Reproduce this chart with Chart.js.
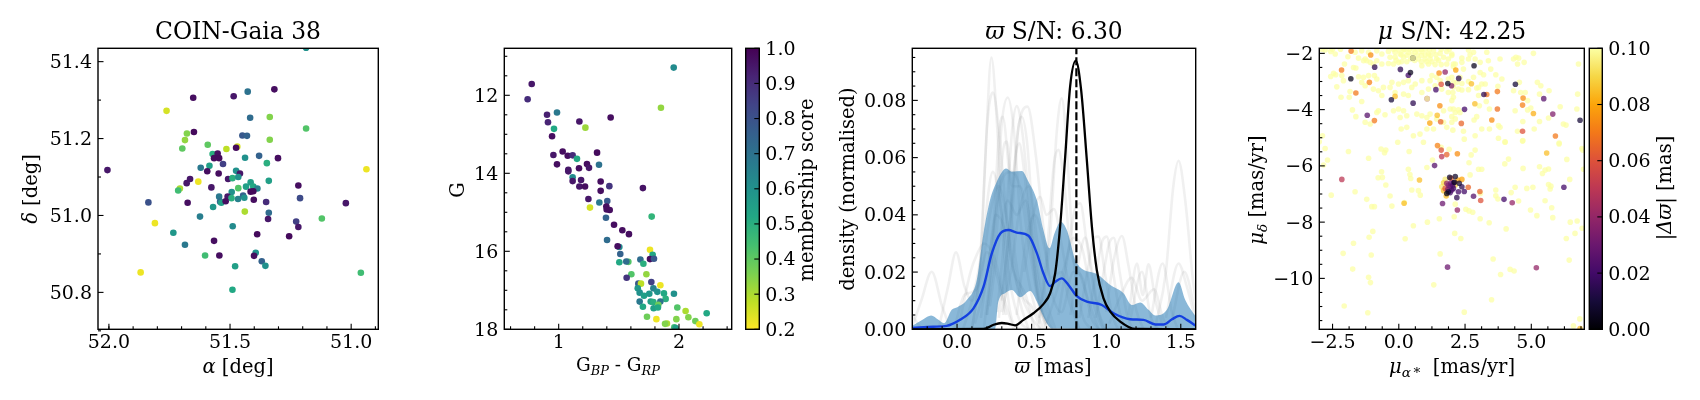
<!DOCTYPE html>
<html>
<head>
<meta charset="utf-8">
<style>
  body { margin: 0; background: #fff; }
  #page { position: relative; width: 1700px; height: 400px; overflow: hidden; }
  canvas { position: absolute; left: 0; top: 0; }
</style>
<script src="https://cdn.jsdelivr.net/npm/chart.js@4/dist/chart.umd.min.js"></script>
</head>
<body>
<div id="page"></div>
<script>
// panel 1: sky positions
var raValues = [52.006,51.837,51.869,51.81,51.734,51.686,51.762,51.652,51.485,51.427,51.317,51.417,51.336,51.186,51.649,51.678,51.686,51.697,51.592,51.449,51.43,51.336,51.515,51.47,51.475,51.572,51.551,51.566,51.545,51.438,51.38,51.302,51.348,51.529,51.621,51.585,51.594,51.547,51.475,51.459,51.665,51.679,51.707,51.714,51.631,51.508,51.49,51.466,51.577,51.34,51.415,51.434,51.466,51.404,51.387,51.415,51.404,51.218,51.493,51.51,51.446,51.441,51.467,51.494,51.545,51.541,51.536,51.518,51.675,51.57,51.402,51.351,51.211,51.022,51.34,51.343,51.439,51.624,51.121,51.227,51.218,51.489,51.388,51.256,51.566,51.394,51.401,51.603,51.544,51.369,51.354,51.479,51.49,50.96,50.937,51.186];
var decValues = [51.118,51.034,50.852,50.98,50.955,50.924,51.272,51.306,51.31,51.322,51.328,51.254,51.256,51.226,51.217,51.213,51.196,51.174,51.184,51.208,51.207,51.197,51.173,51.179,51.176,51.16,51.161,51.149,51.149,51.15,51.155,51.149,51.136,51.134,51.124,51.129,51.115,51.109,51.116,51.109,51.095,51.084,51.07,51.065,51.088,51.095,51.097,51.1,51.073,51.09,51.086,51.075,51.071,51.075,51.07,51.062,51.063,51.078,51.061,51.049,51.052,51.046,51.043,51.045,51.049,51.036,51.033,51.037,51.033,51.022,51.041,51.035,51.045,51.032,51.007,50.991,51.01,50.997,50.992,50.984,50.97,50.972,50.951,50.946,50.934,50.903,50.895,50.896,50.896,50.881,50.869,50.868,50.807,50.851,51.12,51.436];
var skyScore = [.95,.8,.22,.22,.58,.68,.25,.97,.95,.7,.97,.72,.35,.42,.98,.35,.33,.4,.4,.78,.75,.35,.28,.25,.98,.5,.97,.98,.98,.6,.75,.97,.5,.85,.68,.55,.97,.97,.6,.95,.95,.95,.3,.45,.22,.95,.5,.6,.95,.55,.55,.55,.42,.52,.65,.98,.98,.97,.6,.95,.75,.6,.65,.5,.68,.72,.55,.97,.97,.58,.97,.9,.82,.95,.72,.95,.3,.66,.42,.85,.95,.62,.98,.98,.97,.6,.97,.45,.97,.75,.6,.55,.52,.45,.22,.6];

// panel 2: colour-magnitude diagram
var bpRpValues = [1.956,.776,.742,.903,.986,.911,.961,1.172,1.432,1.222,1.85,.945,.956,1.033,1.075,1.116,1.152,1.319,.986,1.235,1.335,1.252,1.169,1.08,1.08,1.116,1.116,1.186,1.349,1.172,1.219,1.421,1.349,1.70,1.247,1.404,1.338,1.26,1.396,1.399,1.424,1.773,1.393,1.46,1.529,1.584,1.402,1.504,1.49,1.759,1.512,1.781,1.759,1.792,1.679,1.579,1.562,1.504,1.704,1.729,1.604,1.565,1.662,1.684,1.77,1.845,1.657,1.787,1.82,1.673,1.875,1.958,1.753,1.709,1.889,1.673,1.765,1.787,1.845,1.828,1.70,1.789,1.825,1.986,2.055,2.23,1.734,1.812,2.078,1.978,2.136,2.169,1.9,1.884,1.961,1.972];
var gMagValues = [11.29,11.71,12.10,12.5,12.44,12.69,12.86,12.67,12.57,12.83,12.32,13.05,13.53,13.44,13.55,13.54,13.63,13.47,13.77,13.76,13.78,13.86,13.87,13.91,13.95,14.1,14.2,14.17,14.21,14.34,14.34,14.33,14.45,14.38,14.66,14.71,14.75,14.88,14.85,14.93,14.94,15.11,15.14,15.32,15.46,15.56,15.71,15.89,15.87,15.96,16.07,16.09,16.2,16.19,16.21,16.27,16.26,16.28,16.32,16.59,16.59,16.68,16.83,16.83,16.79,16.87,16.95,16.95,17.04,17.06,17.08,17.09,17.09,17.14,17.22,17.29,17.29,17.3,17.29,17.37,17.42,17.46,17.44,17.44,17.53,17.59,17.68,17.74,17.69,17.74,17.79,17.87,17.85,17.86,17.95,17.97];
var cmdScore = [.62,.95,.9,.93,.68,.92,.52,.95,.97,.32,.33,.97,.95,.97,.97,.9,.52,.98,.97,.97,.7,.95,.97,.95,.95,.62,.95,.95,.97,.95,.97,.88,.97,.96,.95,.78,.68,.25,.97,.97,.97,.48,.75,.97,.97,.97,.72,.62,.97,.22,.75,.52,.97,.78,.72,.42,.72,.52,.5,.33,.42,.88,.78,.28,.85,.22,.58,.65,.6,.6,.52,.6,.58,.55,.5,.68,.55,.5,.7,.38,.52,.55,.52,.42,.3,.52,.38,.22,.35,.35,.38,.22,.3,.35,.45,.55];

// panel 3: parallax densities, each list is x,y,x,y...
var greyCurves = [
  [.10,0,.15,.02,.19,.06,.23,.095,.27,.07,.31,.03,.36,.005,.42,0],
  [.10,0,.16,.025,.20,.07,.24,.0827,.28,.07,.33,.04,.38,.02,.43,.012,.5,.004,.56,0],
  [.20,.005,.26,.04,.30,.072,.34,.081,.38,.07,.43,.035,.5,.012,.58,0],
  [.27,.006,.33,.04,.37,.07,.40,.078,.44,.068,.49,.04,.54,.012,.6,.002],
  [.3,.01,.36,.04,.41,.07,.472,.0778,.53,.06,.58,.035,.63,.018,.7,.02,.75,.01,.82,0],
  [.18,0,.24,.03,.28,.068,.306,.0743,.34,.06,.38,.03,.44,.012,.5,.008,.56,0],
  [.31,.005,.37,.04,.41,.07,.434,.0743,.47,.065,.52,.03,.58,.01,.64,0],
  [.55,.002,.62,.03,.67,.07,.702,.0807,.74,.06,.78,.025,.84,.005,.9,0],
  [.55,.004,.6,.025,.65,.058,.68,.0627,.72,.05,.76,.028,.82,.02,.88,.01,.95,0],
  [.2,.005,.26,.03,.31,.063,.333,.0656,.37,.05,.42,.05,.47,.04,.53,.015,.6,0],
  [.28,.004,.34,.03,.39,.06,.417,.065,.45,.055,.5,.03,.56,.008,.62,0],
  [1.33,.001,1.4,.02,1.45,.05,1.485,.0589,1.53,.045,1.58,.018,1.6,.01],
  [-.3,.001,-.24,.01,-.17,.0201,-.1,.008,-.05,.001],
  [-.12,.001,-.06,.015,-.007,.0269,.05,.015,.1,.01,.16,.02,.2,.027,.26,.02,.33,.005],
  [-.3,.005,-.25,.001,-.2,0],
  [.45,.02,.52,.042,.557,.0463,.6,.04,.65,.042,.7,.03,.76,.012,.82,0],
  [.68,.005,.74,.025,.79,.042,.826,.044,.87,.03,.93,.01,.98,0],
  [.82,.004,.88,.022,.92,.032,.949,.0324,.99,.02,1.04,.005,1.08,0],
  [.88,.004,.94,.022,.975,.031,1.004,.0324,1.04,.022,1.09,.006,1.13,0],
  [.93,.004,.99,.022,1.02,.03,1.05,.032,1.09,.02,1.14,.005,1.18,0],
  [1.0,.006,1.05,.024,1.105,.0326,1.15,.022,1.2,.007,1.25,0],
  [.76,.005,.82,.025,.859,.0321,.9,.022,.95,.006,1.0,0],
  [1.15,.005,1.206,.023,1.245,.012,1.284,.0227,1.33,.01,1.38,.001],
  [1.3,.004,1.378,.023,1.44,.006,1.48,0],
  [1.4,.004,1.485,.023,1.54,.015,1.6,.003],
  [1.44,.003,1.523,.0201,1.6,.006],
  [1.16,.003,1.239,.0201,1.3,.004,1.35,0],
  [.02,.003,.09,.02,.132,.026,.18,.03,.25,.025,.32,.01,.38,0],
  [-.02,0,.05,.012,.1,.013,.16,.018,.22,.04,.28,.05,.36,.03,.42,.01,.48,0],
  [.16,.004,.23,.03,.3,.052,.36,.055,.42,.05,.48,.03,.55,.008,.6,0],
  [.22,.008,.28,.03,.34,.045,.4,.04,.46,.045,.52,.025,.58,.006,.64,0],
  [.3,.006,.36,.02,.42,.042,.48,.05,.54,.03,.6,.01,.66,0],
  [.12,.002,.2,.018,.26,.04,.32,.035,.38,.02,.46,.012,.52,0],
  [.4,.005,.46,.03,.52,.04,.58,.03,.64,.012,.7,.006,.78,.02,.84,.018,.9,.004,.95,0],
  [.04,0,.1,.01,.16,.025,.24,.055,.3,.04,.36,.015,.42,.003,.48,0],
  [.6,.002,.66,.012,.72,.022,.78,.032,.84,.028,.9,.012,.96,.002,1.0,0],
  [1.02,.002,1.1,.012,1.17,.018,1.24,.01,1.32,.014,1.38,.004,1.42,0]
];
var bandX = [-.30,-.226,-.174,-.125,-.087,-.036,.002,.065,.132,.177,.221,.266,.30,.329,.367,.434,.479,.535,.579,.62,.653,.696,.736,.803,.937,1.027,1.116,1.172,1.228,1.284,1.329,1.407,1.485,1.53,1.60];
var bandUpper = [.0012,.0035,.0048,.0033,.0021,.0068,.0077,.0102,.0172,.0335,.0452,.0516,.0549,.0562,.0551,.0553,.0516,.0452,.0347,.0283,.0335,.0376,.0347,.0231,.0193,.0155,.0126,.0085,.0094,.0068,.0048,.0068,.0164,.0102,.0044];
var lowerX = [-.3,.255,.277,.322,.367,.423,.49,.535,.579,.635,1.6];
var bandLower = [0,0,.0097,.0126,.0137,.0112,.0134,.0097,.0044,.0003,0];
var medianX = [-.3,-.159,-.069,.02,.11,.177,.233,.29,.345,.40,.479,.535,.579,.624,.658,.702,.747,.803,.87,.971,1.049,1.161,1.25,1.329,1.385,1.441,1.492,1.541,1.6];
var medianY = [.0005,.0009,.0012,.0033,.0073,.0148,.0265,.0335,.0347,.0338,.0327,.0266,.0196,.0151,.0166,.0178,.0155,.0116,.0097,.0085,.0056,.0035,.0033,.0017,.0017,.0035,.0047,.0033,.0013];
var memberX = [-.3,.178,.245,.30,.345,.389,.445,.512,.579,.624,.658,.691,.725,.758,.796,.832,.87,.904,.937,.982,1.027,1.094,1.195,1.6];
var memberY = [0,.0001,.0016,.0022,.0019,.0014,.0033,.0056,.0088,.0126,.0196,.0359,.0603,.0848,.0939,.0836,.0592,.0359,.0207,.0108,.0062,.0027,.0001,0];
var clusterPlx = 0.8;

// panel 4: proper motions. Field stars saturate the colour scale
var fieldPmra = [-.2,0,.2,.4,.55,.7,.85,1,1.15,.1,.3,.5,.7,.85,1,1.2,1.4,.45,.6,.85,1.05,1.25,1.5,-.1,.1,.3,-2.9,-2.5,-2.2,1.6,1.9,-2.78,-2.57,-2.4,-1.92,-1.52,-1.27,-.83,-.64,-.39,-.14,.05,.18,.36,.62,.87,1.12,1.31,1.56,1.81,2,-1.65,-1.4,-1.14,-.33,-.14,.18,.74,.99,1.18,1.43,1.69,1.87,-2.05,-1.71,-1.62,-1.33,-1.21,-1.08,-.96,-.83,-.64,-.39,-.2,-.01,.87,1.12,1.37,1.6,1.81,2.06,-2.15,-2.57,-2.46,-2.38,-1.52,-1.33,-1.14,-.92,-.83,-2.09,-2.34,-1.4,-1.27,-.96,-.77,-.58,-.26,-.01,.18,.36,.49,.62,.87,1.25,1.43,1.18,1.37,1.56,1.87,2.06,-2.18,-1.84,-1.87,-1.4,-.64,-.33,-.14,.18,.36,.87,1.12,1.62,1.87,2.06,-1.75,-1.62,-.83,-.77,-.52,-1.08,-1.27,-.2,-.01,.18,.05,.3,.68,.87,1.18,1.43,1.06,1.69,1.94,2.13,.09,.3,.55,.8,1.06,1.31,1.69,1.81,-2.88,-.04,.93,
  2.63,2.82,3.32,2,2.38,2.63,2.88,2.69,3.07,3.38,3.82,4.33,4.42,4.52,5.08,4.73,4.48,6.78,2.13,2.06,2.38,2.44,3.47,3.07,3.2,3.66,3.89,2.82,2,2.31,2.19,2.38,2.63,2.06,3.26,3.13,3.01,3.74,4.55,5.23,5.36,5.67,2.25,2.38,2.63,2.94,4.33,4.6,4.77,5.31,6.75,2.04,3.01,2,3.3,4.86,6.09,2.06,2.25,3.04,3.42,4.39,4.86,4.98,6.72,2,2.13,2,2.31,2.94,2.84,5.31,5.65,6.21,6.31,3.76,3.82,3.13,3.42,5.11,4.48,2.04,2.44,2.88,2.47,3.76,4.01,4.68,6.05,4.68,
  -3,-2.78,-1.9,-1.14,-.67,-.49,-.54,.39,-2.69,-2.84,1.27,1.6,1.9,2.73,2.88,4.14,4,4.01,4.67,6.05,6.91,6.94,6.34,2.65,1.06,.36,-.65,-.78,-.62,.42,.45,-.49,-1.65,-2.55,-.33,-1.21,-1.02,-.92,-.26,.21,.49,.74,.81,2.69,3.01,3.13,4.69,5.31,5.52,5.65,5.42,6.45,6.97,5.65,5.74,5.71,4.83,5.06,4.39,4.24,3.66,3.66,3.74,5.52,4.52,4.97,5.21,5.77,5.81,6.47,6.73,6.92,6.65,6.32,4.05,3.41,3.07,2.53,2.65,2.79,2.09,1.53,1.08,.55,2.13,2.11,2.34,.24,-.98,-1.12,-1.71,-2.1,-1.04,1.56,3.56,6.43,-1.74,-1.14,-1.07,1.32,4.2,4.35,3.84,-2.06,-1.17,3.5,2.47,6.83,6.59,3.08];
var fieldPmdec = [-1.85,-1.87,-1.85,-1.86,-1.85,-1.87,-1.86,-1.85,-1.87,-2.05,-2.07,-2.05,-2.06,-2.08,-2.05,-2.07,-2.05,-2.2,-2.25,-2.3,-2.3,-2.3,-2.25,-2.25,-2.3,-2.3,-1.85,-1.85,-1.85,-1.85,-1.85,-1.88,-1.93,-2.02,-2.12,-2.17,-2.2,-1.91,-2.02,-1.93,-1.96,-2.02,-1.88,-1.96,-1.96,-1.93,-2.02,-1.91,-2,-1.93,-2.02,-1.96,-1.91,-1.96,-2.14,-2.14,-2.14,-2.2,-2.2,-2.2,-2.2,-2.14,-2.2,-2.38,-2.5,-2.52,-2.26,-2.26,-2.32,-2.38,-2.26,-2.38,-2.36,-2.38,-2.32,-2.44,-2.38,-2.4,-2.4,-2.38,-2.38,-2.79,-2.82,-2.71,-2.76,-2.83,-2.85,-2.79,-2.79,-2.91,-2.97,-3.19,-3.03,-3.15,-3.27,-3.33,-3.21,-3.03,-3.09,-3.03,-2.97,-3.21,-3.09,-2.97,-2.79,-2.85,-2.97,-3.15,-2.97,-2.91,-3.03,-3.56,-3.36,-3.56,-3.71,-3.5,-3.21,-3.39,-3.45,-3.5,-3.39,-3.27,-3.27,-3.39,-3.56,-4.01,-4.25,-4.1,-4.04,-4.18,-4.51,-4.45,-4.04,-3.98,-4.04,-4.28,-4.22,-4.16,-4.22,-4.16,-4.33,-4.28,-4.04,-3.98,-4.1,-4.69,-4.63,-4.93,-4.87,-4.69,-4.69,-4.45,-4.63,-4.93,-5.16,-5.16,
  -1.88,-1.96,-1.96,-2.08,-2.17,-2.2,-2.2,-2.05,-2.32,-2.26,-2.2,-2.2,-2.14,-2.17,-2,-2.32,-2.38,-2.38,-2.38,-2.47,-2.32,-2.56,-2.56,-2.68,-2.76,-2.76,-2.91,-2.85,-2.85,-2.85,-3.03,-3.07,-3,-3.19,-3.09,-3.09,-3.21,-3.17,-3.03,-3.03,-3.15,-3.33,-3.27,-3.3,-3.29,-3.23,-3.33,-3.39,-3.39,-3.45,-3.45,-3.39,-3.5,-3.68,-3.71,-3.68,-3.9,-3.98,-4.01,-3.86,-3.98,-4.04,-4.01,-3.94,-3.98,-4.25,-4.33,-4.45,-4.1,-4.25,-4.37,-4.42,-4.3,-4.51,-4.55,-4.57,-4.63,-4.69,-4.69,-4.69,-4.77,-4.73,-4.77,-4.93,-5.05,-5.02,-5.16,-5.1,-5.19,-4.42,
  -5.14,-5.38,-5.49,-5.73,-5.4,-5.44,-5.53,-5.49,-5.79,-5.97,-5.79,-5.34,-5.41,-5.61,-5.44,-5.76,-5.93,-5.14,-5.12,-5.22,-5.38,-5.44,-5.77,-5.89,-6.06,-6.12,-6.21,-6.42,-6.41,-6.31,-6.45,-6.68,-6.92,-7.04,-7.07,-7.19,-7.45,-7.45,-7.43,-7.3,-6.86,-6.88,-7.04,-6.32,-6.12,-6.12,-6.09,-6.03,-6.15,-6.11,-6.27,-6.48,-6.12,-6.66,-6.72,-6.82,-6.8,-6.76,-6.76,-6.95,-6.86,-7.06,-7.18,-7.24,-7.25,-7.57,-7.77,-7.49,-7.84,-8,-7.96,-8.22,-8.4,-8.58,-8.24,-8.02,-7.88,-7.54,-7.6,-7.65,-7.81,-7.88,-8,-8.13,-7.36,-8.4,-8.58,-8.59,-8.33,-8.54,-8.75,-9.11,-9.17,-9.13,-9.31,-9.35,-9.67,-9.96,-10.15,-10.23,-9.68,-9.74,-9.86,-10.98,-11.22,-10.76,-11.2,-11.44,-11.69,-6.98];
var memberPmra = [-1.8,-1.06,-2.16,-1.81,-.91,-1.11,-1.62,.06,.44,.36,.53,1.52,1.75,2.15,2.84,1.85,1.6,1.99,2.26,2.74,1.4,4.4,3.72,3.21,3.32,4.69,5.47,6.84,5.81,-.14,-.28,.54,1.07,1.55,2.87,2.48,3.72,4.67,5.08,-1.19,-.92,1.45,1.17,1.58,2.36,3.51,4.67,5.91,1.46,1.6,1.62,1.81,2.21,5.58,1.35,-2.15,.78,.2,2.62,3.06,3.09,2.82,3.97,4.28,6.23,1.65,2.21,1.84,5.19,6.84,2.19,2.47,2.25,1.92,2.13,1.97,2.1,2.28,2.38,1.81,1.75,1.94,2.06,1.87,1.81,2,1.69,1.79,2.38,1.97,1.87,2.06,2.03,1.85,1.94,2.13,2.23,1.69,1.75,1.62];
var memberPmdec = [-1.92,-2.06,-2.59,-2.9,-2.49,-3.03,-3.41,-2.57,-2.68,-2.78,-2.17,-2.7,-2.66,-2.59,-2.44,-3.07,-3.1,-3.15,-2.89,-3.08,-3.29,-3.1,-3.36,-3.46,-3.46,-3.59,-3.61,-4.38,-4.16,-3.53,-3.65,-3.77,-3.61,-3.86,-3.79,-3.99,-3.98,-3.84,-4.14,-4.2,-4.39,-4.2,-4.48,-4.43,-4.49,-4.37,-4.77,-4.94,-5.28,-5.44,-5.67,-5.6,-5.57,-5.54,-5.99,-6.48,-6.5,-7.33,-6.76,-6.91,-7.23,-7.08,-7.19,-7.31,-6.76,-7.34,-7.57,-9.6,-9.62,-11.78,-7.13,-6.91,-6.92,-6.41,-6.38,-6.44,-6.58,-6.62,-6.74,-6.62,-6.8,-6.74,-6.8,-6.92,-6.98,-6.86,-6.88,-7.07,-6.48,-6.62,-6.68,-6.6,-6.7,-6.83,-6.95,-6.68,-6.5,-6.6,-6.48,-6.74];
var memberDeltaPlx = [.07,.075,.07,.005,.015,.072,.07,.015,.005,.02,.008,.075,.04,.08,.005,.005,.06,.035,.015,.085,.02,.01,.07,.015,.07,.075,.025,.01,.035,.085,.01,.015,.04,.075,.085,.02,.068,.072,.082,.025,.07,.085,.08,.065,.065,.075,.06,.07,.072,.06,.05,.065,.075,.085,.025,.05,.085,.085,.065,.065,.06,.025,.02,.04,.02,.03,.04,.03,.04,.085,.015,.02,.02,.008,.008,.065,.005,.01,.015,.04,.06,.03,.02,.01,.005,.025,.085,.085,.08,.03,.035,.02,.025,.035,.02,.09,.08,.09,.095,.095];
// two field stars sit on top of members
var overPmra = [.53, 1.07];
var overPmdec = [-2.17, -3.61];

// axis ticks
var skyXTicks = [52, 51.5, 51], skyXMinor = [52,51.9,51.8,51.7,51.6,51.4,51.3,51.2,51.1,50.9];
var skyYTicks = [50.8, 51, 51.2, 51.4], skyYMinor = [50.7,50.9,51.1,51.3];
var cmdXTicks = [1, 2], cmdXMinor = [.6,.8,1.2,1.4,1.6,1.8,2.2,2.4];
var cmdYTicks = [12, 14, 16, 18], cmdYMinor = [11,11.5,12.5,13,13.5,14.5,15,15.5,16.5,17,17.5];
var plxXTicks = [0, .5, 1, 1.5], plxXMinor = [-.2,-.1,.1,.2,.3,.4,.6,.7,.8,.9,1.1,1.2,1.3,1.4];
var plxYTicks = [0, .02, .04, .06, .08], plxYMinor = [.005,.01,.015,.025,.03,.035,.045,.05,.055,.065,.07,.075,.085,.09,.095];
var pmXTicks = [-2.5, 0, 2.5, 5], pmXMinor = [-1.875,-1.25,-.625,.625,1.25,1.875,3.125,3.75,4.375,5.625,6.25,6.875];
var pmYTicks = [-10, -8, -6, -4, -2], pmYMinor = [-11.5,-11,-10.5,-9.5,-9,-8.5,-7.5,-7,-6.5,-5.5,-5,-4.5,-3.5,-3,-2.5];
var scoreTicks = [.2,.3,.4,.5,.6,.7,.8,.9,1];
var deltaTicks = [0,.02,.04,.06,.08,.1];

var viridisStops = ['#440154','#482475','#414487','#355f8d','#2a788e','#21918c','#22a884','#44bf70','#7ad151','#bddf26','#fde725'];
var infernoStops = ['#000004','#160b39','#420a68','#6a176e','#932667','#bc3754','#dd513a','#f37819','#fca50a','#f6d746','#fcffa4'];
var SERIF = '"DejaVu Serif"';
var TICK_SIZE = 19;
var LABEL_SIZE = 19.5;
var TITLE_SIZE = 23.4;
var AXIS_SPACE = 60;
var SCORE_RADIUS = 3.3;
var PM_RADIUS = 2.8;

function hexToRgb(hex) {
    return [parseInt(hex.substr(1, 2), 16), parseInt(hex.substr(3, 2), 16), parseInt(hex.substr(5, 2), 16)];
}

function colormap(stops, t, alpha) {
    t = Math.min(1, Math.max(0, t)) * (stops.length - 1);
    let i = Math.min(stops.length - 2, Math.floor(t));
    let a = hexToRgb(stops[i]), b = hexToRgb(stops[i + 1]);
    let f = t - i;
    let c = a.map((v, k) => Math.round(v + (b[k] - v) * f));
    return `rgba(${c[0]},${c[1]},${c[2]},${alpha})`;
}

function scoreColor(s) {
    return colormap(viridisStops, 1 - (s - 0.2) / 0.8, 1);
}

function deltaColor(v) {
    return colormap(infernoStops, v / 0.1, 0.74);
}

function toPoints(xs, ys) {
    return xs.map((x, i) => ({ x: x, y: ys[i] }));
}

function pairsToPoints(list) {
    let pts = [];
    for (let i = 0; i < list.length; i += 2) {
        pts.push({ x: list[i], y: list[i + 1] });
    }
    return pts;
}

function drawRuns(ctx, runs, size) {
    // runs are pieces of one label: plain, italic or subscript
    let total = 0;
    runs.forEach(r => {
        let s = r.sub ? size * 0.7 : size;
        ctx.font = `${r.i ? 'italic ' : ''}${s}px ${SERIF}`;
        r.w = ctx.measureText(r.t).width;
        total += r.w;
    });
    let x = -total / 2;
    runs.forEach(r => {
        let s = r.sub ? size * 0.7 : size;
        ctx.font = `${r.i ? 'italic ' : ''}${s}px ${SERIF}`;
        ctx.fillText(r.t, x, r.sub ? size * 0.22 : 0);
        x += r.w;
    });
}

var panelDecor = {
    id: 'panelDecor',
    afterDraw(chart, args, opts) {
        let ctx = chart.ctx, a = chart.chartArea;
        ctx.save();
        ctx.strokeStyle = '#000';
        ctx.fillStyle = '#000';
        ctx.textAlign = 'left';
        ctx.textBaseline = 'alphabetic';
        ctx.lineWidth = 1.1;
        let tick = (x1, y1, x2, y2) => {
            ctx.beginPath();
            ctx.moveTo(x1, y1);
            ctx.lineTo(x2, y2);
            ctx.stroke();
        };
        if (opts.bottomMajor) {
            let s = chart.scales.x;
            opts.bottomMajor.forEach(v => tick(s.getPixelForValue(v), a.bottom, s.getPixelForValue(v), a.bottom - 5.5));
            opts.bottomMinor.forEach(v => tick(s.getPixelForValue(v), a.bottom, s.getPixelForValue(v), a.bottom - 3));
        }
        let y = chart.scales.y;
        if (opts.rightMajor) {
            opts.rightMajor.forEach(v => tick(a.right, y.getPixelForValue(v), a.right - 5, y.getPixelForValue(v)));
        } else {
            opts.leftMajor.forEach(v => tick(a.left, y.getPixelForValue(v), a.left + 5.5, y.getPixelForValue(v)));
            opts.leftMinor.forEach(v => tick(a.left, y.getPixelForValue(v), a.left + 3, y.getPixelForValue(v)));
        }
        ctx.lineWidth = 1.4;
        ctx.strokeRect(a.left, a.top, a.right - a.left, a.bottom - a.top);
        (opts.labels || []).forEach(l => {
            ctx.save();
            ctx.translate(l.x, l.y);
            if (l.vertical) ctx.rotate(-Math.PI / 2);
            drawRuns(ctx, l.runs, l.size || LABEL_SIZE);
            ctx.restore();
        });
        ctx.restore();
    }
};
Chart.register(panelDecor);

function numberLabel(digits) {
    return v => v.toFixed(digits).replace('-', '\u2212');
}

function makeAxis(range, ticks, digits, position, padding, reverse) {
    let horizontal = position === 'bottom';
    return {
        type: 'linear',
        position: position,
        min: range[0],
        max: range[1],
        reverse: !!reverse,
        grid: { display: false, drawTicks: false },
        border: { display: false },
        afterBuildTicks: s => { s.ticks = ticks.map(v => ({ value: v })); },
        afterFit: s => {
            if (horizontal) s.height = AXIS_SPACE; else s.width = AXIS_SPACE;
            s.paddingLeft = s.paddingRight = s.paddingTop = s.paddingBottom = 0;
        },
        ticks: {
            autoSkip: false,
            maxRotation: 0,
            padding: padding,
            labelOffset: horizontal ? 0 : 1.5,
            color: '#000',
            font: { family: SERIF, size: TICK_SIZE },
            callback: numberLabel(digits)
        }
    };
}

function makeCanvas() {
    let c = document.createElement('canvas');
    c.width = 1700;
    c.height = 400;
    document.getElementById('page').appendChild(c);
    return c;
}

function makePanel(box, datasets, xAxis, yAxis, decor) {
    return new Chart(makeCanvas(), {
        type: 'scatter',
        data: { datasets: datasets },
        options: {
            responsive: false,
            animation: false,
            events: [],
            layout: { padding: { left: box[0] - AXIS_SPACE, top: box[1], right: 1700 - box[2], bottom: 400 - box[3] - AXIS_SPACE } },
            scales: { x: xAxis, y: yAxis },
            plugins: { legend: { display: false }, tooltip: { enabled: false }, panelDecor: decor }
        }
    });
}

function makeColorbar(box, range, ticks, digits, colorFor, label) {
    return new Chart(makeCanvas(), {
        type: 'bar',
        data: {
            labels: ['cbar'],
            datasets: [{
                data: [range],
                categoryPercentage: 1,
                barPercentage: 1,
                backgroundColor: c => {
                    let a = c.chart.chartArea;
                    if (!a) return '#888';
                    let g = c.chart.ctx.createLinearGradient(0, a.bottom, 0, a.top);
                    for (let i = 0; i <= 10; i++) g.addColorStop(i / 10, colorFor(i / 10));
                    return g;
                }
            }]
        },
        options: {
            responsive: false,
            animation: false,
            events: [],
            layout: { padding: { left: box[0], top: box[1], right: 1700 - box[2] - AXIS_SPACE, bottom: 400 - box[3] } },
            scales: {
                x: { display: false },
                y: makeAxis(range, ticks, digits, 'right', 6)
            },
            plugins: {
                legend: { display: false },
                tooltip: { enabled: false },
                panelDecor: { rightMajor: ticks, labels: label }
            }
        }
    });
}

function scatterSet(xs, ys, values, colorFn, radius) {
    return {
        data: toPoints(xs, ys),
        pointRadius: radius,
        pointBorderWidth: 0,
        showLine: false,
        backgroundColor: values.map(colorFn)
    };
}

// largest offsets first so the dark members end up on top
function membersDarkOnTop() {
    let idx = memberDeltaPlx.map((v, i) => i).sort((a, b) => memberDeltaPlx[b] - memberDeltaPlx[a]);
    return scatterSet(idx.map(i => memberPmra[i]), idx.map(i => memberPmdec[i]), idx.map(i => memberDeltaPlx[i]), deltaColor, PM_RADIUS);
}

drawAll();

function drawAll() {
    makePanel([98, 48.3, 378.3, 329.3],
        [scatterSet(raValues, decValues, skyScore, scoreColor, SCORE_RADIUS)],
        makeAxis([50.888, 52.045], skyXTicks, 1, 'bottom', 2, true),
        makeAxis([50.704, 51.4347], skyYTicks, 1, 'left', 6),
        {
            bottomMajor: skyXTicks, bottomMinor: skyXMinor, leftMajor: skyYTicks, leftMinor: skyYMinor,
            labels: [
                { x: 238, y: 39, size: TITLE_SIZE, runs: [{ t: 'COIN-Gaia 38' }] },
                { x: 238, y: 373, runs: [{ t: '\u03b1', i: 1 }, { t: ' [deg]' }] },
                { x: 37, y: 189, vertical: 1, runs: [{ t: '\u03b4', i: 1 }, { t: ' [deg]' }] }
            ]
        });

    makePanel([504.3, 48.3, 731.7, 329.3],
        [scatterSet(bpRpValues, gMagValues, cmdScore, scoreColor, SCORE_RADIUS)],
        makeAxis([.548, 2.438], cmdXTicks, 0, 'bottom', 2),
        makeAxis([10.795, 18], cmdYTicks, 0, 'left', 6, true),
        {
            bottomMajor: cmdXTicks, bottomMinor: cmdXMinor, leftMajor: cmdYTicks, leftMinor: cmdYMinor,
            labels: [
                { x: 618, y: 371, size: 18.4, runs: [{ t: 'G' }, { t: 'BP', i: 1, sub: 1 }, { t: ' - G' }, { t: 'RP', i: 1, sub: 1 }] },
                { x: 464, y: 190, vertical: 1, runs: [{ t: 'G' }] }
            ]
        });

    makeColorbar([745.7, 48.3, 759.3, 329.3], [.2, 1], scoreTicks, 1, t => colormap(viridisStops, 1 - t, 1),
        [{ x: 812.5, y: 190, vertical: 1, runs: [{ t: 'membership score' }] }]);

    let plxSets = greyCurves.map(c => ({
        data: pairsToPoints(c),
        showLine: true,
        pointRadius: 0,
        borderColor: 'rgba(120,120,120,0.11)',
        borderWidth: 2.6,
        cubicInterpolationMode: 'monotone',
        order: 10
    }));
    let lowerIndex = plxSets.length;
    plxSets.push({
        data: toPoints(lowerX, bandLower),
        showLine: true, pointRadius: 0, borderWidth: 0, borderColor: 'rgba(0,0,0,0)',
        cubicInterpolationMode: 'monotone', order: 5
    });
    plxSets.push({
        data: toPoints(bandX, bandUpper),
        showLine: true, pointRadius: 0, borderWidth: 0, borderColor: 'rgba(0,0,0,0)',
        cubicInterpolationMode: 'monotone', order: 4,
        fill: { target: lowerIndex },
        backgroundColor: 'rgba(31,119,180,0.52)'
    });
    plxSets.push({
        data: toPoints(medianX, medianY),
        showLine: true, pointRadius: 0, borderColor: '#1440e0', borderWidth: 2.4,
        cubicInterpolationMode: 'monotone', order: 3
    });
    plxSets.push({
        data: toPoints(memberX, memberY),
        showLine: true, pointRadius: 0, borderColor: '#000', borderWidth: 2.3,
        cubicInterpolationMode: 'monotone', order: 2
    });
    plxSets.push({
        data: toPoints([clusterPlx, clusterPlx], [0, .0982]),
        showLine: true, pointRadius: 0, borderColor: '#000', borderWidth: 2.2, borderDash: [8, 3], order: 1
    });
    makePanel([912.3, 48.3, 1195.7, 329.3], plxSets,
        makeAxis([-.3, 1.6], plxXTicks, 1, 'bottom', 2),
        makeAxis([0, .0982], plxYTicks, 2, 'left', 6),
        {
            bottomMajor: plxXTicks, bottomMinor: plxXMinor, leftMajor: plxYTicks, leftMinor: plxYMinor,
            labels: [
                { x: 1054, y: 39, size: TITLE_SIZE, runs: [{ t: '\u03d6', i: 1 }, { t: ' S/N: 6.30' }] },
                { x: 1053, y: 373, runs: [{ t: '\u03d6', i: 1 }, { t: ' [mas]' }] },
                { x: 854, y: 189, vertical: 1, runs: [{ t: 'density (normalised)' }] }
            ]
        });

    makePanel([1319.3, 48.3, 1584.3, 329.3],
        [
            Object.assign(scatterSet(overPmra, overPmdec, overPmra.map(() => .1), deltaColor, PM_RADIUS), { order: 0 }),
            Object.assign(membersDarkOnTop(), { order: 1 }),
            Object.assign(scatterSet(fieldPmra, fieldPmdec, fieldPmra.map(() => .1), deltaColor, PM_RADIUS), { order: 2 })
        ],
        makeAxis([-3, 7], pmXTicks, 1, 'bottom', 2),
        makeAxis([-11.81, -1.82], pmYTicks, 0, 'left', 6),
        {
            bottomMajor: pmXTicks, bottomMinor: pmXMinor, leftMajor: pmYTicks, leftMinor: pmYMinor,
            labels: [
                { x: 1452, y: 39, size: TITLE_SIZE, runs: [{ t: '\u03bc', i: 1 }, { t: ' S/N: 42.25' }] },
                { x: 1452, y: 373, runs: [{ t: '\u03bc', i: 1 }, { t: '\u03b1\u2009*', i: 1, sub: 1 }, { t: '  [mas/yr]' }] },
                { x: 1262.5, y: 190, vertical: 1, runs: [{ t: '\u03bc', i: 1 }, { t: '\u03b4', i: 1, sub: 1 }, { t: ' [mas/yr]' }] }
            ]
        });

    makeColorbar([1589.3, 48.3, 1602.3, 329.3], [0, .1], deltaTicks, 2, t => colormap(infernoStops, t, 1),
        [{ x: 1671, y: 188, vertical: 1, runs: [{ t: '|\u0394\u03d6|', i: 1 }, { t: ' [mas]' }] }]);
}
</script>
</body>
</html>
